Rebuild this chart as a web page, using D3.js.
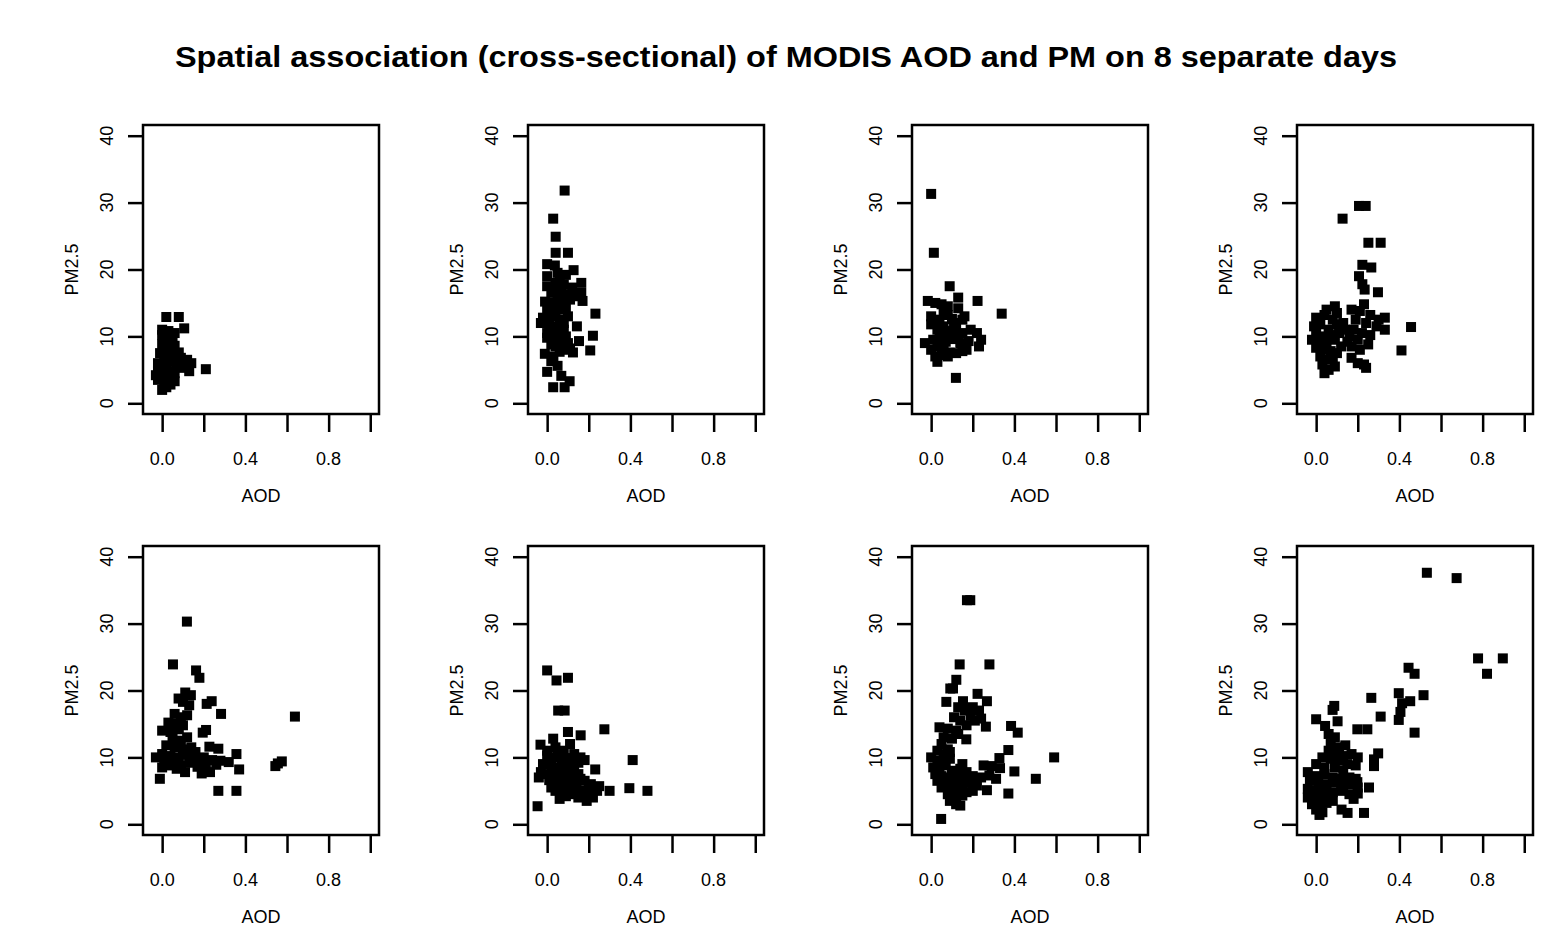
<!DOCTYPE html>
<html>
<head>
<meta charset="utf-8">
<script src="https://cdn.jsdelivr.net/npm/d3@7"></script>
<style>
  body { margin: 0; background: #fff; }
  text { font-family: "Liberation Sans", Arial, sans-serif; fill: #000; }
</style>
</head>
<body>
<div id="chart"></div>
<script>
const TITLE = "Spatial association (cross-sectional) of MODIS AOD and PM on 8 separate days";
const X_LABEL = "AOD";
const Y_LABEL = "PM2.5";
const X_TICKS = [0, 0.2, 0.4, 0.6, 0.8, 1.0];
const X_TICK_LABELS = { 0: "0.0", 0.4: "0.4", 0.8: "0.8" };
const Y_TICKS = [0, 10, 20, 30, 40];

// [AOD, PM2.5] per day
const day1 = [
  [0.02, 12.9], [0.08, 12.9], [0.106, 11.2], [0.21, 5.1],
  [0.0, 11.0], [0.03, 10.8], [0.06, 10.5], [0.01, 9.8], [0.04, 9.5], [0.0, 8.8],
  [0.03, 8.5], [0.05, 8.0], [-0.01, 7.5], [0.02, 7.2], [0.06, 7.0], [0.09, 6.8],
  [0.12, 6.5], [0.14, 6.0], [-0.02, 6.0], [0.01, 5.8], [0.04, 6.2], [0.07, 5.5],
  [0.1, 5.3], [0.13, 4.8], [-0.03, 4.2], [0.0, 4.5], [0.03, 4.8], [0.05, 4.0],
  [-0.02, 3.5], [0.01, 3.0], [0.04, 2.8], [0.0, 2.0], [-0.01, 3.8], [0.02, 5.2],
  [0.06, 4.5], [0.08, 6.0], [0.03, 9.0], [0.02, 10.0],
  [0.0, 10.2], [0.05, 9.8], [0.06, 8.6], [0.01, 6.6], [0.04, 7.6], [0.08, 7.6],
  [0.11, 6.0], [0.03, 3.6], [0.06, 3.3], [0.0, 5.3], [-0.02, 4.8], [0.02, 2.4]
];
const day2 = [
  [0.084, 31.8], [0.029, 27.6], [0.041, 24.9], [0.10, 22.5], [0.041, 22.5],
  [0.0, 20.8], [0.037, 20.6], [0.127, 19.9], [0.164, 18.0], [0.164, 16.5],
  [0.17, 15.3], [0.232, 13.4], [0.143, 11.5], [0.22, 10.1], [0.153, 9.3],
  [0.207, 7.9], [0.124, 7.6], [-0.011, 7.4], [0.0, 4.7], [0.029, 2.4], [0.084, 2.4],
  [0.108, 3.3], [0.068, 4.1], [0.02, 6.3], [0.05, 5.6],
  [0.0, 19.0], [0.05, 19.5], [0.09, 19.2], [0.0, 17.5], [0.04, 18.0], [0.08, 17.8],
  [0.12, 17.3], [0.02, 16.5], [0.06, 16.0], [0.1, 16.3], [0.14, 16.0], [-0.01, 15.2],
  [0.03, 15.0], [0.07, 14.8], [0.11, 15.5], [0.0, 14.0], [0.04, 13.8], [0.09, 14.2],
  [-0.02, 12.8], [0.02, 13.0], [0.06, 12.5], [0.1, 13.0], [-0.03, 12.0], [0.01, 11.8],
  [0.05, 11.5], [0.08, 11.0], [0.0, 10.5], [0.04, 10.8], [0.09, 10.0], [0.0, 9.8],
  [0.03, 9.5], [0.07, 9.2], [0.1, 9.0], [0.04, 8.5], [0.08, 8.0], [0.11, 8.2],
  [0.02, 8.8], [0.06, 7.7],
  [0.06, 18.6], [0.03, 17.2], [0.07, 17.0], [0.05, 15.6], [0.08, 15.8], [0.06, 14.0],
  [0.08, 12.0], [0.02, 10.2], [0.06, 10.2], [0.07, 11.8], [0.05, 9.0], [0.03, 7.0]
];
const day3 = [
  [0.0, 31.3], [0.013, 22.5], [0.089, 17.5], [0.223, 15.3], [0.339, 13.4],
  [0.119, 3.8], [-0.016, 15.3],
  [0.02, 15.0], [0.05, 14.8], [0.08, 14.5], [0.13, 15.8], [0.13, 14.2], [0.0, 13.0],
  [0.04, 12.5], [0.08, 13.2], [0.11, 12.0], [0.15, 12.5], [0.16, 13.0], [0.0, 11.8],
  [0.03, 11.0], [0.06, 11.5], [0.09, 10.8], [0.12, 11.2], [0.15, 10.5], [0.19, 11.0],
  [0.22, 10.5], [-0.03, 9.0], [0.01, 9.5], [0.04, 9.8], [0.07, 9.2], [0.1, 9.6],
  [0.14, 9.0], [0.18, 9.3], [0.24, 9.5], [0.23, 8.5], [0.0, 8.0], [0.03, 8.5],
  [0.06, 8.2], [0.09, 7.6], [0.12, 7.5], [0.15, 7.8], [0.02, 7.0], [0.05, 7.2],
  [0.03, 6.2], [0.08, 7.0], [0.17, 8.0], [0.1, 10.2],
  [0.06, 13.6], [0.1, 12.6], [0.02, 12.2], [0.07, 10.2], [0.13, 10.0], [0.05, 8.8]
];
const day4 = [
  [0.127, 27.6], [0.206, 29.5], [0.238, 29.5], [0.251, 24.0], [0.31, 24.0],
  [0.222, 20.7], [0.265, 20.3], [0.206, 19.0], [0.222, 17.8], [0.233, 17.0],
  [0.297, 16.6], [0.456, 11.4], [0.41, 7.9],
  [0.05, 14.0], [0.09, 14.5], [0.0, 12.8], [0.04, 13.2], [0.08, 12.5], [0.1, 13.5],
  [-0.01, 11.5], [0.02, 11.8], [0.06, 11.0], [0.1, 11.8], [0.13, 12.0], [0.0, 10.5],
  [0.03, 10.0], [0.07, 10.2], [0.11, 10.5], [0.14, 11.0], [-0.02, 9.5], [0.01, 9.2],
  [0.05, 9.0], [0.09, 9.5], [0.12, 8.5], [0.0, 8.3], [0.03, 8.0], [0.07, 7.8],
  [0.1, 7.5], [0.02, 7.0], [0.05, 6.5], [0.08, 6.8], [0.03, 5.8], [0.06, 5.0],
  [0.09, 5.5], [0.04, 4.5],
  [0.17, 14.0], [0.21, 13.8], [0.23, 14.8], [0.26, 13.2], [0.3, 12.5], [0.33, 12.8],
  [0.19, 12.5], [0.24, 12.0], [0.29, 11.5], [0.33, 11.0], [0.18, 11.0], [0.22, 10.5],
  [0.26, 10.2], [0.16, 10.0], [0.2, 9.5], [0.25, 8.8], [0.17, 8.5], [0.15, 9.2],
  [0.21, 8.0], [0.17, 6.8], [0.2, 6.0], [0.24, 5.3], [0.23, 5.8]
];
const day5 = [
  [0.119, 30.3], [0.052, 23.9], [0.163, 23.0], [0.179, 21.9], [0.638, 16.1],
  [0.556, 9.1], [0.575, 9.4], [0.544, 8.7], [0.27, 5.0], [0.357, 5.0], [-0.011, 6.8],
  [0.283, 16.5], [0.238, 18.4], [0.214, 18.0], [0.111, 19.7], [0.138, 19.3],
  [0.079, 18.8], [0.211, 14.1], [0.195, 13.7], [0.357, 10.5], [0.37, 8.2],
  [0.27, 11.3], [0.227, 11.6],
  [0.1, 18.3], [0.13, 17.8], [0.06, 16.5], [0.09, 16.0], [0.12, 16.3], [0.03, 15.2],
  [0.07, 15.0], [0.1, 14.8], [0.0, 14.0], [0.04, 13.8], [0.08, 14.2], [0.05, 12.8],
  [0.09, 12.5], [0.12, 13.0], [0.02, 11.8], [0.06, 11.5], [0.1, 11.2], [0.14, 11.5],
  [0.16, 10.8], [-0.03, 10.0], [0.0, 10.5], [0.04, 10.2], [0.08, 10.0], [0.12, 10.4],
  [0.16, 9.8], [0.2, 10.0], [0.24, 9.6], [0.28, 9.5], [0.32, 9.3], [0.01, 9.2],
  [0.05, 9.0], [0.09, 8.8], [0.13, 9.2], [0.17, 8.6], [0.21, 8.8], [0.26, 8.9],
  [0.0, 8.5], [0.07, 8.3], [0.11, 7.8], [0.19, 7.6], [0.23, 7.8], [0.03, 8.8]
];
const day6 = [
  [0.0, 23.0], [0.045, 21.5], [0.10, 21.9], [0.053, 17.0], [0.084, 17.0],
  [0.275, 14.2], [0.10, 13.8], [0.161, 13.3], [0.029, 12.8], [-0.032, 11.9],
  [0.231, 8.2], [0.411, 9.6], [0.395, 5.4], [0.482, 5.0], [0.30, 5.0], [-0.046, 2.7],
  [0.0, 11.0], [0.04, 11.5], [0.08, 11.0], [0.11, 12.0], [0.13, 10.5], [0.16, 10.0],
  [0.0, 10.2], [0.03, 10.0], [0.07, 9.8], [0.11, 9.5], [0.15, 9.2], [0.18, 9.6],
  [-0.02, 9.0], [0.02, 8.8], [0.06, 8.5], [0.09, 8.8], [0.13, 8.3], [-0.03, 7.8],
  [0.0, 7.5], [0.04, 7.2], [0.08, 7.6], [0.12, 7.3], [0.15, 7.5], [-0.04, 7.0],
  [0.01, 6.6], [0.05, 6.2], [0.1, 6.5], [0.14, 6.0], [0.18, 6.5], [0.21, 6.0],
  [0.25, 5.7], [0.02, 5.5], [0.06, 5.8], [0.1, 5.4], [0.14, 5.2], [0.17, 5.0],
  [0.2, 5.3], [0.24, 5.0], [0.07, 4.8], [0.12, 4.5], [0.18, 4.2], [0.22, 4.0],
  [0.06, 3.8], [0.19, 3.5], [0.03, 6.8], [0.08, 5.0],
  [0.05, 10.5], [0.09, 9.9], [0.04, 8.2], [0.1, 8.0], [0.07, 6.8], [0.12, 6.2],
  [0.16, 6.8], [0.04, 5.0], [0.09, 4.2], [0.15, 4.0]
];
const day7 = [
  [0.188, 33.5], [0.172, 33.5], [0.137, 23.9], [0.28, 23.9], [0.121, 21.6],
  [0.105, 20.3], [0.092, 20.3], [0.073, 18.3], [0.223, 19.5], [0.153, 18.4],
  [0.268, 18.4], [0.263, 14.6], [0.384, 14.7], [0.416, 13.7], [0.371, 11.1],
  [0.328, 9.9], [0.591, 10.0], [0.503, 6.8], [0.40, 7.9], [0.371, 4.6], [0.268, 5.1],
  [0.048, 0.8], [0.169, 12.7], [0.252, 8.8], [0.291, 8.7], [0.331, 8.4], [0.312, 6.8],
  [0.13, 17.5], [0.16, 17.0], [0.2, 17.5], [0.23, 17.0], [0.19, 16.2], [0.24, 15.8],
  [0.21, 15.5], [0.11, 16.0], [0.14, 15.5], [0.17, 14.8], [0.04, 14.5], [0.08, 14.3],
  [0.12, 14.0], [0.06, 13.0], [0.1, 12.8], [0.13, 13.5], [0.05, 12.0], [0.08, 11.2],
  [0.03, 11.0], [0.06, 10.5], [0.09, 10.8], [0.0, 10.0], [0.03, 9.5], [0.06, 9.2],
  [0.09, 9.8], [0.15, 9.0], [0.01, 8.5], [0.04, 8.2], [0.07, 8.8], [0.1, 8.0],
  [0.14, 8.3], [0.17, 7.8], [0.02, 7.5], [0.05, 7.2], [0.08, 7.0], [0.12, 7.2],
  [0.16, 7.0], [0.2, 7.2], [0.24, 7.0], [0.28, 7.3], [0.03, 6.5], [0.07, 6.0],
  [0.11, 6.3], [0.15, 6.0], [0.19, 6.2], [0.22, 5.8], [0.05, 5.5], [0.09, 5.2],
  [0.13, 5.0], [0.17, 4.8], [0.2, 5.0], [0.08, 4.5], [0.12, 4.0], [0.15, 4.3],
  [0.09, 3.5], [0.12, 3.0], [0.14, 2.8]
];
const day8 = [
  [0.532, 37.6], [0.675, 36.8], [0.778, 24.8], [0.897, 24.8], [0.821, 22.5],
  [0.444, 23.4], [0.473, 22.5], [0.397, 19.6], [0.516, 19.3], [0.452, 18.4],
  [0.413, 18.1], [0.265, 18.9], [0.405, 16.8], [0.397, 15.6], [0.31, 16.1],
  [0.473, 13.7], [0.087, 17.7], [0.079, 17.1], [0.0, 15.7], [0.043, 14.7],
  [0.103, 15.4], [0.198, 14.2], [0.246, 14.2], [0.298, 10.6], [0.278, 9.7],
  [0.278, 8.7], [0.254, 5.5], [0.23, 1.7], [0.151, 1.7], [0.122, 2.2], [0.198, 6.3],
  [0.016, 1.4],
  [0.06, 13.5], [0.09, 13.0], [0.07, 12.0], [0.11, 11.5], [0.14, 11.8], [0.06, 11.0],
  [0.09, 10.8], [0.13, 10.2], [0.17, 10.5], [0.2, 10.0], [0.03, 10.0], [0.07, 9.8],
  [0.11, 9.5], [0.15, 9.0], [0.19, 8.8], [0.0, 9.0], [0.04, 8.5], [0.09, 8.5],
  [0.13, 8.0], [-0.04, 7.8], [0.0, 7.2], [0.04, 7.5], [0.08, 7.0], [0.12, 6.8],
  [0.16, 7.0], [0.19, 6.8], [-0.03, 6.5], [0.01, 6.2], [0.05, 6.0], [0.09, 6.3],
  [0.13, 5.8], [0.17, 6.0], [0.2, 5.5], [-0.04, 5.3], [0.0, 5.0], [0.04, 5.2],
  [0.08, 4.8], [0.12, 5.0], [0.16, 4.5], [0.2, 4.6], [-0.04, 4.0], [0.0, 3.8],
  [0.04, 4.2], [0.08, 3.5], [0.18, 3.8], [-0.02, 3.0], [0.02, 2.8], [0.05, 3.2],
  [0.0, 2.2], [0.03, 1.8]
];
const DAYS = [day1, day2, day3, day4, day5, day6, day7, day8];

const width = 1551;
const height = 928;
const boxW = 236;
const boxH = 289;
const colLeft = [143, 528, 912, 1297];
const rowTop = [125, 546];
const markSize = 10;

const svg = d3
  .select("#chart")
  .append("svg")
  .attr("width", width)
  .attr("height", height);

svg
  .append("text")
  .attr("x", 786)
  .attr("y", 67)
  .attr("text-anchor", "middle")
  .attr("textLength", 1222)
  .attr("lengthAdjust", "spacingAndGlyphs")
  .style("font-size", "30px")
  .style("font-weight", "bold")
  .text(TITLE);

// R pads the limits by 4% on each side
const x = d3.scaleLinear().domain([-0.092, 1.042]).range([0, boxW]);
const y = d3.scaleLinear().domain([-1.6, 41.6]).range([boxH, 0]);

DAYS.forEach((data, i) => {
  const g = svg
    .append("g")
    .attr("transform", `translate(${colLeft[i % 4]}, ${rowTop[Math.floor(i / 4)]})`);

  const xAxis = g
    .append("g")
    .attr("transform", `translate(0, ${boxH})`)
    .call(d3.axisBottom(x).tickValues(X_TICKS).tickSize(18).tickFormat(""));
  const yAxis = g
    .append("g")
    .call(d3.axisLeft(y).tickValues(Y_TICKS).tickSize(15).tickFormat(""));
  [xAxis, yAxis].forEach(a => {
    a.select(".domain").remove();
    a.selectAll("line").attr("stroke", "#000").attr("stroke-width", 2.5);
  });

  g.selectAll(".xlab")
    .data(X_TICKS.filter(d => X_TICK_LABELS[d] !== undefined))
    .enter()
    .append("text")
    .attr("x", d => x(d))
    .attr("y", boxH + 51)
    .attr("text-anchor", "middle")
    .style("font-size", "18px")
    .text(d => X_TICK_LABELS[d]);

  g.selectAll(".ylab")
    .data(Y_TICKS)
    .enter()
    .append("text")
    .attr("transform", d => `translate(-30, ${y(d)}) rotate(-90)`)
    .attr("text-anchor", "middle")
    .style("font-size", "18px")
    .text(d => d);

  g.append("text")
    .attr("x", boxW / 2)
    .attr("y", boxH + 88)
    .attr("text-anchor", "middle")
    .style("font-size", "18px")
    .text(X_LABEL);

  g.append("text")
    .attr("transform", `translate(-65, ${boxH / 2}) rotate(-90)`)
    .attr("text-anchor", "middle")
    .style("font-size", "18px")
    .text(Y_LABEL);

  g.selectAll(".pt")
    .data(data)
    .enter()
    .append("rect")
    .attr("x", d => x(d[0]) - markSize / 2)
    .attr("y", d => y(d[1]) - markSize / 2)
    .attr("width", markSize)
    .attr("height", markSize)
    .attr("fill", "#000");

  g.append("rect")
    .attr("width", boxW)
    .attr("height", boxH)
    .attr("fill", "none")
    .attr("stroke", "#000")
    .attr("stroke-width", 2.5);
});
</script>
</body>
</html>
